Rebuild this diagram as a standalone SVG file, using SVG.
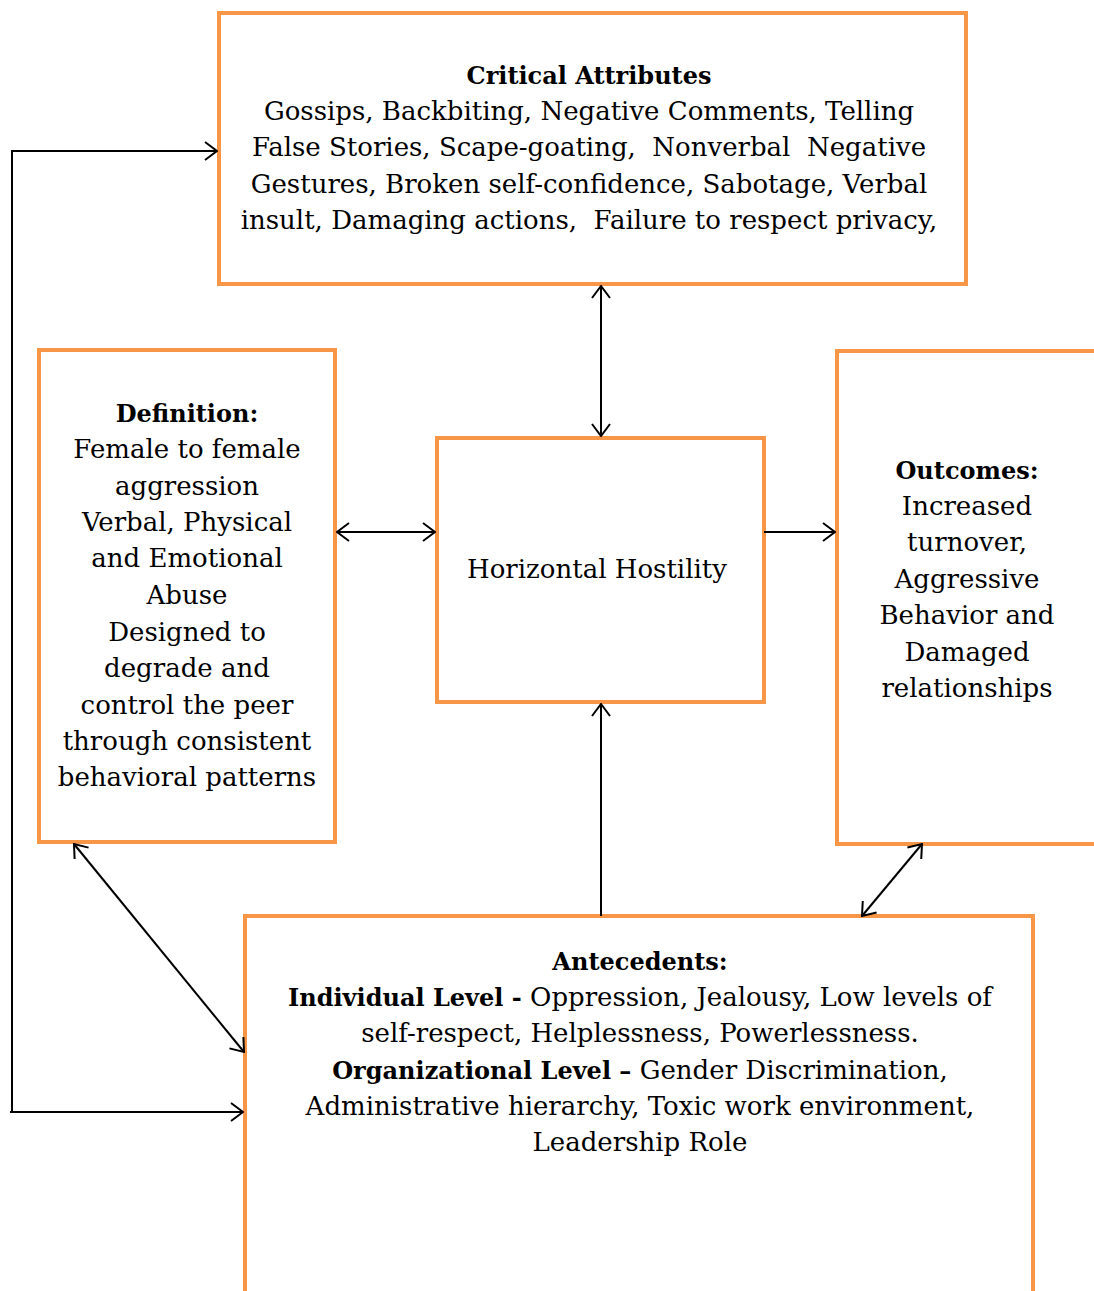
<svg xmlns="http://www.w3.org/2000/svg" width="1094" height="1291" viewBox="0 0 1094 1291">
<style>
.box{fill:#fff;stroke:#F79646;stroke-width:4}
.t{font-family:"DejaVu Serif","Liberation Serif",serif;font-size:26px;fill:#000;text-anchor:middle;white-space:pre}
.b{font-weight:bold;font-size:24px}
.c{fill:none;stroke:#000;stroke-width:2}
</style>
<defs>
<marker id="ah" viewBox="0 0 14 20" refX="13" refY="10" markerWidth="14" markerHeight="20" markerUnits="userSpaceOnUse" orient="auto-start-reverse">
<path d="M1,1 L13,10 L1,19" fill="none" stroke="#000" stroke-width="2"/>
</marker>
</defs>
<rect width="1094" height="1291" fill="#fff"/>
<g id="critical">
<rect class="box" x="219" y="13" width="747" height="271"/>
<text class="t b" x="589" y="84">Critical Attributes</text>
<text class="t" x="589" y="120">Gossips, Backbiting, Negative Comments, Telling</text>
<text class="t" x="589" y="156" xml:space="preserve">False Stories, Scape-goating,  Nonverbal  Negative</text>
<text class="t" x="589" y="193">Gestures, Broken self-confidence, Sabotage, Verbal</text>
<text class="t" x="589" y="229" xml:space="preserve">insult, Damaging actions,  Failure to respect privacy,</text>
</g>
<g id="definition">
<rect class="box" x="39" y="350" width="296" height="492"/>
<text class="t b" x="187" y="422">Definition:</text>
<text class="t" x="187" y="458">Female to female</text>
<text class="t" x="187" y="495">aggression</text>
<text class="t" x="187" y="531">Verbal, Physical</text>
<text class="t" x="187" y="567">and Emotional</text>
<text class="t" x="187" y="604">Abuse</text>
<text class="t" x="187" y="641">Designed to</text>
<text class="t" x="187" y="677">degrade and</text>
<text class="t" x="187" y="714">control the peer</text>
<text class="t" x="187" y="750">through consistent</text>
<text class="t" x="187" y="786">behavioral patterns</text>
</g>
<g id="hostility">
<rect class="box" x="437" y="438" width="327" height="264"/>
<text class="t" x="597" y="578">Horizontal Hostility</text>
</g>
<g id="outcomes">
<rect class="box" x="837" y="351" width="270" height="493"/>
<text class="t b" x="967" y="479">Outcomes:</text>
<text class="t" x="967" y="515">Increased</text>
<text class="t" x="967" y="551">turnover,</text>
<text class="t" x="967" y="588">Aggressive</text>
<text class="t" x="967" y="624">Behavior and</text>
<text class="t" x="967" y="661">Damaged</text>
<text class="t" x="967" y="697">relationships</text>
</g>
<g id="antecedents">
<rect class="box" x="245" y="916" width="788" height="400"/>
<text class="t b" x="640" y="970">Antecedents:</text>
<text class="t" x="640" y="1006"><tspan class="b">Individual Level - </tspan>Oppression, Jealousy, Low levels of</text>
<text class="t" x="640" y="1042">self-respect, Helplessness, Powerlessness.</text>
<text class="t" x="640" y="1079"><tspan class="b">Organizational Level – </tspan>Gender Discrimination,</text>
<text class="t" x="640" y="1115">Administrative hierarchy, Toxic work environment,</text>
<text class="t" x="640" y="1151">Leadership Role</text>
</g>
<g id="connectors">
<polyline class="c" points="12,1112 12,151 217,151" marker-end="url(#ah)"/>
<line class="c" x1="10" y1="1112" x2="243" y2="1112" marker-end="url(#ah)"/>
<line class="c" x1="601" y1="286" x2="601" y2="436" marker-start="url(#ah)" marker-end="url(#ah)"/>
<line class="c" x1="337" y1="532" x2="435" y2="532" marker-start="url(#ah)" marker-end="url(#ah)"/>
<line class="c" x1="764" y1="532" x2="835" y2="532" marker-end="url(#ah)"/>
<line class="c" x1="601" y1="916" x2="601" y2="704" marker-end="url(#ah)"/>
<line class="c" x1="74" y1="844" x2="244" y2="1052" marker-start="url(#ah)" marker-end="url(#ah)"/>
<line class="c" x1="922" y1="844" x2="862" y2="916" marker-start="url(#ah)" marker-end="url(#ah)"/>
</g>
</svg>
